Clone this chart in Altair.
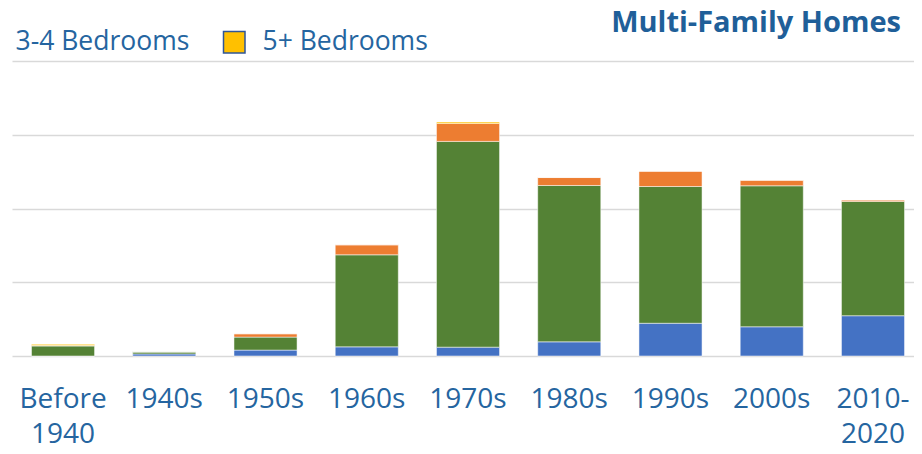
import altair as alt
import pandas as pd

decades = ["Before 1940", "1940s", "1950s", "1960s", "1970s", "1980s", "1990s", "2000s", "2010-2020"]
series = ["0-1 Bedrooms", "2 Bedrooms", "3-4 Bedrooms", "5+ Bedrooms"]
colors = ["#4472C4", "#548235", "#ED7D31", "#FFC000"]

v_01 = [0, 14, 40, 62, 60, 96, 222, 198, 273]
v_2 = [68, 14, 88, 624, 1395, 1060, 927, 956, 775]
v_34 = [3, 0, 23, 68, 122, 54, 104, 38, 10]
v_5 = [8, 0, 0, 0, 9, 0, 0, 0, 0]

chart_title = ["Multi-Family Homes"]

rows = []
for vals, s in zip([v_01, v_2, v_34, v_5], series):
    for d, v in zip(decades, vals):
        rows.append({"decade": d, "series": s, "value": v, "order": series.index(s)})
df = pd.DataFrame(rows)

text_color = "#2565A0"
title_color = "#1F5F99"

label_expr = ("datum.label == 'Before 1940' ? ['Before', '1940'] : "
              "datum.label == '2010-2020' ? ['2010-', '2020'] : datum.label")

bars = alt.Chart(df).mark_bar(stroke="white", strokeWidth=1, strokeOpacity=0.5).encode(
    x=alt.X("decade:N", sort=decades,
            scale=alt.Scale(paddingInner=0.377, paddingOuter=0.143, align=0.673),
            axis=alt.Axis(title=None, labelAngle=0, domain=False, ticks=False,
                          labelFont="Open Sans", labelFontSize=28, labelColor=text_color,
                          labelPadding=29, labelLineHeight=35, labelOverlap=False,
                          labelExpr=label_expr, labelLimit=300)),
    y=alt.Y("value:Q", stack="zero",
            scale=alt.Scale(domain=[0, 2000], nice=False),
            axis=alt.Axis(title=None, labels=False, ticks=False, domain=False,
                          values=[0, 500, 1000, 1500, 2000], grid=True,
                          gridColor="#D9D9D9", gridWidth=1.5)),
    color=alt.Color("series:N", scale=alt.Scale(domain=series, range=colors),
                    legend=alt.Legend(values=["3-4 Bedrooms", "5+ Bedrooms"], orient="none",
                                      direction="horizontal", legendX=-38, legendY=-32,
                                      title=None, symbolType="square", symbolSize=462,
                                      symbolStrokeColor="#2F5597", symbolStrokeWidth=1.5,
                                      symbolOpacity=1,
                                      labelFont="Open Sans", labelFontSize=26.5,
                                      labelColor=text_color, labelOffset=15,
                                      columnPadding=30, padding=0, labelLimit=400)),
    order=alt.Order("order:Q"),
)

title = alt.Chart(pd.DataFrame({"t": chart_title})).mark_text(
    font="Open Sans", fontSize=29, fontWeight="bold", color=title_color,
    align="right", baseline="alphabetic"
).encode(x=alt.value(889), y=alt.value(-29), text="t:N")

chart = alt.layer(bars, title).properties(
    width=902, height=295,
    autosize=alt.AutoSizeParams(type="none"),
    padding={"left": 4, "top": 53, "right": 0, "bottom": 93},
).configure_view(stroke=None)

chart.save("out.html", embed_options={"renderer": "svg", "actions": False})
